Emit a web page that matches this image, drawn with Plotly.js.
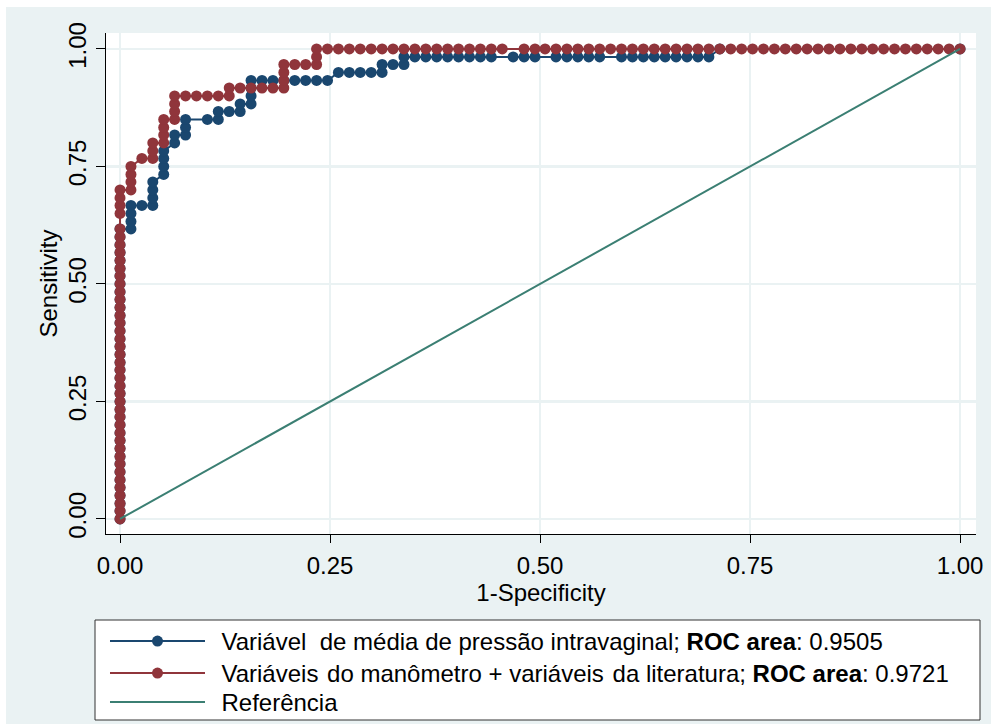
<!DOCTYPE html>
<html>
<head>
<meta charset="utf-8">
<script src="https://cdn.plot.ly/plotly-3.0.1.min.js"></script>
<style>
html,body{margin:0;padding:0;background:#ffffff;}
#chart{position:absolute;left:6px;top:7px;width:985px;height:717px;}
</style>
</head>
<body>
<div id="chart"></div>
<script>
// ROC points: [1-Specificity, Sensitivity]
const rocPressao = [
  [0,0],[0,.017],[0,.033],[0,.05],[0,.067],[0,.083],[0,.1],[0,.117],[0,.133],[0,.15],
  [0,.167],[0,.183],[0,.2],[0,.217],[0,.233],[0,.25],[0,.267],[0,.283],[0,.3],[0,.317],
  [0,.333],[0,.35],[0,.367],[0,.383],[0,.4],[0,.417],[0,.433],[0,.45],[0,.467],[0,.483],
  [0,.5],[0,.517],[0,.533],[0,.55],[0,.567],[0,.583],[0,.6],[0,.617],
  [.013,.617],[.013,.633],[.013,.65],[.013,.667],[.026,.667],[.039,.667],[.039,.683],[.039,.70],[.039,.717],
  [.052,.733],[.052,.75],[.052,.767],[.052,.783],[.065,.80],[.065,.817],[.078,.817],[.078,.833],[.078,.85],
  [.104,.85],[.117,.85],[.117,.867],[.130,.867],[.143,.867],[.143,.883],[.156,.883],[.156,.90],[.156,.917],[.156,.933],
  [.169,.933],[.182,.933],[.195,.933],[.208,.933],[.221,.933],[.234,.933],[.247,.933],
  [.260,.95],[.273,.95],[.286,.95],[.299,.95],[.312,.95],[.312,.967],[.325,.967],[.338,.967],[.338,.983],
  [.351,.983],[.364,.983],[.377,.983],[.390,.983],[.403,.983],[.416,.983],[.429,.983],[.442,.983],
  [.468,.983],[.481,.983],[.494,.983],
  [.519,.983],[.532,.983],[.545,.983],[.558,.983],[.571,.983],
  [.597,.983],[.610,.983],[.623,.983],[.636,.983],[.649,.983],[.662,.983],[.675,.983],[.688,.983],[.701,.983],
  [.714,1],[1,1]
];
const rocManometro = [
  [0,0],[0,.017],[0,.033],[0,.05],[0,.067],[0,.083],[0,.1],[0,.117],[0,.133],[0,.15],
  [0,.167],[0,.183],[0,.2],[0,.217],[0,.233],[0,.25],[0,.267],[0,.283],[0,.3],[0,.317],
  [0,.333],[0,.35],[0,.367],[0,.383],[0,.4],[0,.417],[0,.433],[0,.45],[0,.467],[0,.483],
  [0,.5],[0,.517],[0,.533],[0,.55],[0,.567],[0,.583],[0,.6],[0,.617],
  [0,.65],[0,.667],[0,.683],[0,.70],
  [.013,.70],[.013,.717],[.013,.733],[.013,.75],[.026,.767],[.039,.767],[.039,.783],[.039,.80],
  [.052,.80],[.052,.817],[.052,.833],[.052,.85],[.065,.85],[.065,.867],[.065,.883],[.065,.90],
  [.078,.90],[.091,.90],[.104,.90],[.117,.90],[.130,.90],[.130,.917],
  [.143,.917],[.156,.917],[.169,.917],[.182,.917],[.195,.917],[.195,.933],[.195,.95],[.195,.967],
  [.208,.967],[.221,.967],[.234,.967],[.234,.983],[.234,1],
  [.247,1],[.260,1],[.273,1],[.286,1],[.299,1],[.312,1],[.325,1],[.338,1],[.351,1],[.364,1],
  [.377,1],[.390,1],[.403,1],[.416,1],[.429,1],[.442,1],[.455,1],
  [.481,1],[.494,1],[.506,1],[.519,1],[.532,1],[.545,1],[.558,1],[.571,1],[.584,1],[.597,1],
  [.610,1],[.623,1],[.636,1],[.649,1],[.662,1],[.675,1],[.688,1],[.701,1],[.714,1],[.727,1],
  [.740,1],[.753,1],[.766,1],[.779,1],[.792,1],[.805,1],[.818,1],[.831,1],[.844,1],[.857,1],
  [.870,1],[.883,1],[.896,1],[.909,1],[.922,1],[.935,1],[.948,1],[.961,1],[.974,1],[.987,1],[1,1]
];
const refX = [0, 1];
const refY = [0, 1];
const tickVals = [0, 0.25, 0.5, 0.75, 1];
const tickText = ["0.00", "0.25", "0.50", "0.75", "1.00"];
const names = [
  "\u00a0\u2009Variável\u00a0\u00a0de média de pressão intravaginal; <b>ROC area</b>: 0.9505",
  "\u00a0\u2009Variáveis\u00a0\u200ado manômetro + variáveis\u00a0\u200ada literatura; <b>ROC area</b>: 0.9721",
  "\u00a0\u2009Referência"
];

const FONT = "Arial, 'Liberation Sans', sans-serif";
const BG = "#eaf2f3";

const traces = [
  {x: rocPressao.map(p=>p[0]), y: rocPressao.map(p=>p[1]), type:"scatter", mode:"lines+markers",
   name:names[0], legend:"legend", line:{color:"#1a476f", width:2}, marker:{color:"#1a476f", size:11}},
  {x: rocManometro.map(p=>p[0]), y: rocManometro.map(p=>p[1]), type:"scatter", mode:"lines+markers",
   name:names[1], legend:"legend2", line:{color:"#90353b", width:2}, marker:{color:"#90353b", size:11}},
  {x: refX, y: refY, type:"scatter", mode:"lines", name:names[2], legend:"legend3",
   line:{color:"#3b7f73", width:2}}
];

function legendAt(yPaper) {
  return {x:-0.00115, xanchor:"left", y:yPaper, yanchor:"top", bgcolor:"rgba(0,0,0,0)",
    borderwidth:0, font:{size:24}, itemwidth:95};
}

const layout = {
  width:985, height:717,
  paper_bgcolor:BG, plot_bgcolor:"#ffffff",
  margin:{l:100, r:15, t:26, b:190, autoexpand:false},
  font:{family:FONT, size:24, color:"#000"},
  showlegend:true,
  xaxis:{range:[-0.0167,1.019], tickvals:tickVals, ticktext:tickText, showgrid:true,
    gridcolor:BG, gridwidth:2.5, zeroline:false, showline:true, linecolor:"#000", linewidth:1,
    ticks:"outside", ticklen:8, tickcolor:"#000", tickfont:{size:24}, ticklabelstandoff:2,
    title:{text:"1-Specificity", font:{size:24}, standoff:0}},
  yaxis:{range:[-0.032,1.034], tickvals:tickVals, ticktext:tickText, showgrid:true,
    gridcolor:BG, gridwidth:2.5, zeroline:false, showline:true, linecolor:"#000", linewidth:1,
    ticks:"outside", ticklen:9, tickcolor:"#000", tickfont:{size:24}, tickangle:-90,
    title:{text:"Sensitivity", font:{size:24}, standoff:0}},
  legend: legendAt(-0.16966),
  legend2: legendAt(-0.2335),
  legend3: legendAt(-0.2914),
  shapes:[{type:"rect", xref:"paper", yref:"paper", x0:-0.01264, x1:1.0046, y0:-0.17166, y1:-0.37126,
    line:{color:"#333", width:1}, fillcolor:"#ffffff", layer:"below"}]
};

Plotly.newPlot("chart", traces, layout, {displayModeBar:false, staticPlot:true});
</script>
</body>
</html>
